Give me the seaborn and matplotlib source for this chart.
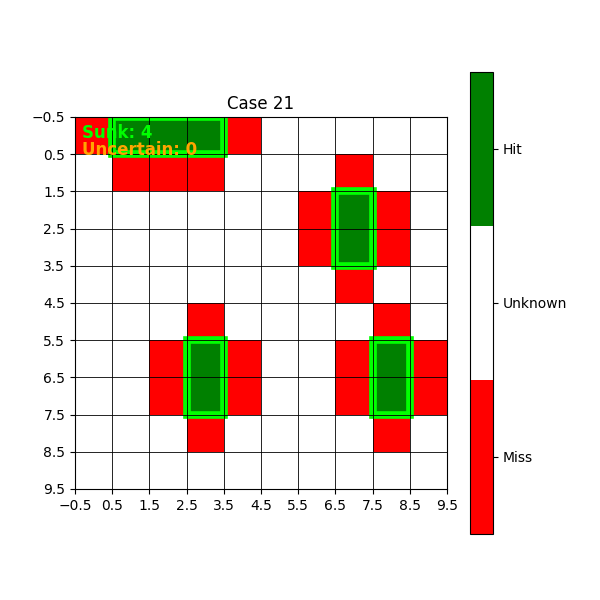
import numpy as np
import matplotlib
matplotlib.use("Agg")
import matplotlib.pyplot as plt
import seaborn as sns
from matplotlib.colors import ListedColormap
from matplotlib.patches import Rectangle

# board state: -1 = miss, 0 = unknown, 1 = hit
board = [
    [-1, 1, 1, 1, -1, 0, 0, 0, 0, 0],
    [0, -1, -1, -1, 0, 0, 0, -1, 0, 0],
    [0, 0, 0, 0, 0, 0, -1, 1, -1, 0],
    [0, 0, 0, 0, 0, 0, -1, 1, -1, 0],
    [0, 0, 0, 0, 0, 0, 0, -1, 0, 0],
    [0, 0, 0, -1, 0, 0, 0, 0, -1, 0],
    [0, 0, -1, 1, -1, 0, 0, -1, 1, -1],
    [0, 0, -1, 1, -1, 0, 0, -1, 1, -1],
    [0, 0, 0, -1, 0, 0, 0, 0, -1, 0],
    [0, 0, 0, 0, 0, 0, 0, 0, 0, 0],
]

# sunk ships: (row, col, length, horizontal)
sunk_ships = [
    (0, 1, 3, True),
    (2, 7, 2, False),
    (6, 3, 2, False),
    (6, 8, 2, False),
]

state_labels = ["Miss", "Unknown", "Hit"]
state_values = [-1, 0, 1]
n_uncertain = 0

cmap = ListedColormap(["red", "white", "green"])

fig, ax = plt.subplots(figsize=(6, 6), dpi=100)
sns.heatmap(np.array(board), cmap=cmap, vmin=-1.5, vmax=1.5, square=True,
            xticklabels=False, yticklabels=False, ax=ax)

# draw sunk ships outlines
for r, c, n, horiz in sunk_ships:
    w, h = (n, 1) if horiz else (1, n)
    ax.add_patch(Rectangle((c, r), w, h, fill=False, edgecolor="lime", linewidth=5.5))

# grid + ticks on cell edges like imshow
n = len(board)
edges = np.arange(n + 1)
labels = [f"{v - 0.5:g}".replace("-", "\u2212") for v in edges]
ax.set_xticks(edges)
ax.set_xticklabels(labels, rotation=0)
ax.set_yticks(edges)
ax.set_yticklabels(labels, rotation=0)
ax.grid(True, color="black", linewidth=0.6)
for s in ax.spines.values():
    s.set_visible(True)
    s.set_color("black")
    s.set_linewidth(0.8)

cbar = ax.collections[0].colorbar
cbar.set_ticks(state_values)
cbar.set_ticklabels(state_labels)
cbar.outline.set_linewidth(0.8)
cbar.outline.set_edgecolor("black")

ax.set_title("Case 21")
ax.text(0.02, 0.98, f"Sunk: {len(sunk_ships)}", transform=ax.transAxes,
        color="lime", fontsize=12, fontweight="bold", va="top")
ax.text(0.02, 0.935, f"Uncertain: {n_uncertain}", transform=ax.transAxes,
        color="orange", fontsize=12, fontweight="bold", va="top")

plt.savefig("out.png", dpi=100)
